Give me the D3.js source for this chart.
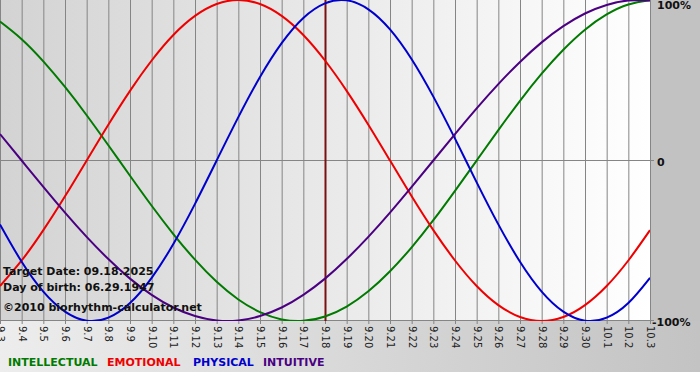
<!DOCTYPE html>
<html>
<head>
<meta charset="utf-8">
<script src="https://cdn.jsdelivr.net/npm/d3@7"></script>
<style>
body{margin:0;background:#fff;}
svg{display:block;}
text{font-family:"DejaVu Sans",Verdana,sans-serif;}
</style>
</head>
<body>
<div id="chart"></div>
<script>
// days shown on the axis (month.day), 09.03 to 10.03
var days=["9.3","9.4","9.5","9.6","9.7","9.8","9.9","9.10","9.11","9.12","9.13","9.14","9.15","9.16","9.17","9.18",
	"9.19","9.20","9.21","9.22","9.23","9.24","9.25","9.26","9.27","9.28","9.29","9.30","10.1","10.2","10.3"];
// cycle values per day, -1..1
var intellectual=[0.866,0.756,0.618,0.458,0.282,0.095,-0.095,-0.282,-0.458,-0.618,-0.756,-0.866,-0.945,-0.990,-0.999,-0.972,
	-0.910,-0.815,-0.690,-0.541,-0.372,-0.189,0,0.189,0.372,0.541,0.690,0.815,0.910,0.972,0.999];
var emotional=[-0.782,-0.623,-0.434,-0.223,0,0.223,0.434,0.623,0.782,0.901,0.975,1,0.975,0.901,0.782,0.623,
	0.434,0.223,0,-0.223,-0.434,-0.623,-0.782,-0.901,-0.975,-1,-0.975,-0.901,-0.782,-0.623,-0.434];
var physical=[-0.398,-0.631,-0.817,-0.942,-0.998,-0.979,-0.888,-0.731,-0.520,-0.270,0,0.270,0.520,0.731,0.888,0.979,
	0.998,0.942,0.817,0.631,0.398,0.136,-0.136,-0.398,-0.631,-0.817,-0.942,-0.998,-0.979,-0.888,-0.731];
var intuitive=[0.165,0,-0.165,-0.325,-0.476,-0.614,-0.736,-0.837,-0.916,-0.969,-0.997,-0.997,-0.969,-0.916,-0.837,-0.736,
	-0.614,-0.476,-0.325,-0.165,0,0.165,0.325,0.476,0.614,0.736,0.837,0.916,0.969,0.997,0.997];
var targetDay="9.18";
var yLabels=[{v:1,t:"100%"},{v:0,t:"0"},{v:-1,t:"-100%"}];
var infoLines=["Target Date: 09.18.2025","Day of birth: 06.29.1947","\u00a92010 biorhythm-calculator.net"];
var legend=[{name:"INTELLECTUAL",color:"#007a00"},{name:"EMOTIONAL",color:"#ee0000"},
	{name:"PHYSICAL",color:"#0000cc"},{name:"INTUITIVE",color:"#4b0082"}];

var W=700,H=380,plotW=650,plotH=321;
var svg=d3.select("#chart").append("svg").attr("width",W).attr("height",H);
var defs=svg.append("defs");
var g1=defs.append("linearGradient").attr("id","plotBg");
g1.append("stop").attr("offset","0%").attr("stop-color","#d3d3d3");
g1.append("stop").attr("offset","100%").attr("stop-color","#ffffff");
var g2=defs.append("linearGradient").attr("id","footBg");
g2.append("stop").attr("offset","0%").attr("stop-color","#ededed");
g2.append("stop").attr("offset","100%").attr("stop-color","#c3c3c3");

// frame backgrounds
svg.append("rect").attr("x",0).attr("y",0).attr("width",W).attr("height",H).style("fill","#fff");
svg.append("rect").attr("x",0).attr("y",plotH).attr("width",W).attr("height",372-plotH).style("fill","url(#footBg)");
svg.append("rect").attr("x",plotW).attr("y",0).attr("width",W-plotW).attr("height",plotH).style("fill","#c2c2c2");
svg.append("rect").attr("x",0).attr("y",0).attr("width",plotW).attr("height",plotH).style("fill","url(#plotBg)");

var x=d3.scalePoint().domain(days).range([0,plotW]);
var y=d3.scaleLinear().domain([-1,1]).range([plotH,0]);

// vertical grid + ticks
svg.append("g").selectAll("line").data(days).enter().append("line")
	.attr("x1",function(d){return x(d)+0.5;}).attr("x2",function(d){return x(d)+0.5;})
	.attr("y1",0).attr("y2",plotH+3)
	.style("stroke","#858585").style("stroke-width",1);
// horizontal lines: zero and bottom
[0,-1].forEach(function(v){
	svg.append("line").attr("x1",0).attr("x2",plotW+4)
		.attr("y1",Math.round(y(v))-0.5).attr("y2",Math.round(y(v))-0.5)
		.style("stroke","#858585").style("stroke-width",1);
});

// tick labels, rotated
svg.append("g").selectAll("text").data(days).enter().append("text")
	.attr("transform",function(d){return "translate("+(x(d)-3)+","+(plotH+5)+") rotate(90)";})
	.style("font-size","10px").style("fill","#222")
	.text(function(d){return d;});

// y labels
svg.append("g").selectAll("text").data(yLabels).enter().append("text")
	.attr("x",function(d){return d.v<0?652:657;})
	.attr("y",function(d){return y(d.v)+(d.v>0?9:5);})
	.style("font-size","11px").style("font-weight","bold").style("fill","#111")
	.text(function(d){return d.t;});

// target day marker
svg.append("line").attr("x1",x(targetDay)+0.5).attr("x2",x(targetDay)+0.5)
	.attr("y1",0).attr("y2",plotH)
	.style("stroke","#7a1010").style("stroke-width",2);

// curves
var line=d3.line().x(function(d,i){return x(days[i]);}).y(function(d){return y(d);}).curve(d3.curveNatural);
var series=[intellectual,emotional,physical,intuitive];
var clip=defs.append("clipPath").attr("id","clipPlot");
clip.append("rect").attr("x",0).attr("y",0).attr("width",plotW).attr("height",plotH);
svg.append("g").attr("clip-path","url(#clipPlot)").selectAll("path").data(series).enter().append("path")
	.attr("d",line)
	.style("fill","none").style("stroke-width",2)
	.style("stroke",function(d,i){return legend[i].color;});

// info text
svg.append("g").selectAll("text").data(infoLines).enter().append("text")
	.attr("x",3).attr("y",function(d,i){return [275,291,311][i];})
	.style("font-size","11px").style("font-weight","bold").style("fill","#111")
	.text(function(d){return d;});

// legend
var lx=[8,107,193,263];
svg.append("g").selectAll("text").data(legend).enter().append("text")
	.attr("x",function(d,i){return lx[i];}).attr("y",366)
	.style("font-size","11px").style("font-weight","bold")
	.style("fill",function(d){return d.color;})
	.text(function(d){return d.name;});
</script>
</body>
</html>
